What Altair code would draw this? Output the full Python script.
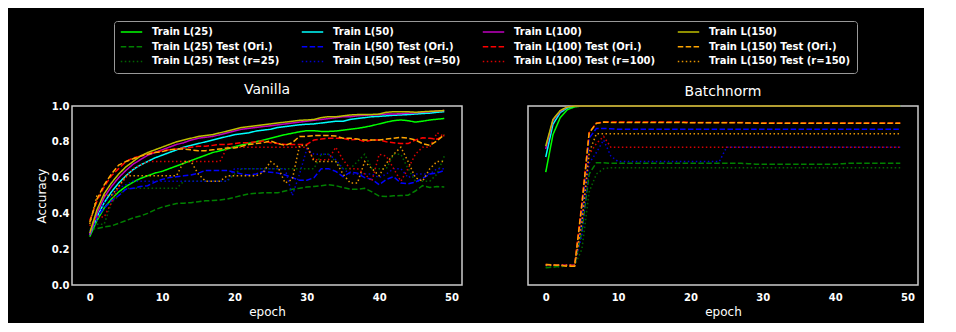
import altair as alt
import pandas as pd

EPOCHS = list(range(50))

# Legend / drawing order (column-major in a 4-column legend, like the reference)
LEGEND_ORDER = [
    "Train L(25)", "Train L(25) Test (Ori.)", "Train L(25) Test (r=25)",
    "Train L(50)", "Train L(50) Test (Ori.)", "Train L(50) Test (r=50)",
    "Train L(100)", "Train L(100) Test (Ori.)", "Train L(100) Test (r=100)",
    "Train L(150)", "Train L(150) Test (Ori.)", "Train L(150) Test (r=150)",
]
COLORS = [
    "#00ff00", "#008000", "#006400",
    "#00ffff", "#0000ff", "#0000cd",
    "#bf00bf", "#ff0000", "#d80000",
    "#bfbf00", "#ffa500", "#e59400",
]
SOLID, DASHED, DOTTED = [1, 0], [5.5, 2.4], [1.5, 2.5]
DASHES = [SOLID, DASHED, DOTTED] * 4

# ---------------- Vanilla ----------------
V_TRAIN25 = [0.27, 0.36, 0.43, 0.48, 0.52, 0.55, 0.575, 0.595, 0.61, 0.625,
             0.635, 0.65, 0.665, 0.68, 0.695, 0.71, 0.725, 0.74, 0.75, 0.76,
             0.772, 0.782, 0.792, 0.80, 0.81, 0.82, 0.83, 0.84, 0.848, 0.856,
             0.862, 0.862, 0.858, 0.858, 0.86, 0.865, 0.87, 0.875, 0.882, 0.89,
             0.90, 0.91, 0.918, 0.922, 0.918, 0.91, 0.915, 0.922, 0.926, 0.93]
V_TRAIN50 = [0.28, 0.38, 0.46, 0.52, 0.57, 0.61, 0.645, 0.67, 0.69, 0.71,
             0.725, 0.74, 0.755, 0.77, 0.78, 0.79, 0.80, 0.81, 0.82, 0.83,
             0.84, 0.845, 0.85, 0.86, 0.865, 0.87, 0.88, 0.885, 0.89, 0.895,
             0.898, 0.90, 0.905, 0.91, 0.915, 0.915, 0.925, 0.93, 0.935, 0.94,
             0.942, 0.945, 0.948, 0.95, 0.952, 0.955, 0.958, 0.96, 0.965, 0.968]
V_TRAIN100 = [0.28, 0.40, 0.49, 0.55, 0.60, 0.64, 0.675, 0.70, 0.725, 0.74,
              0.755, 0.77, 0.785, 0.795, 0.81, 0.82, 0.825, 0.83, 0.84, 0.85,
              0.86, 0.87, 0.875, 0.88, 0.885, 0.89, 0.895, 0.90, 0.905, 0.91,
              0.915, 0.92, 0.925, 0.93, 0.935, 0.94, 0.94, 0.945, 0.948, 0.95,
              0.952, 0.955, 0.955, 0.957, 0.96, 0.962, 0.965, 0.968, 0.972, 0.975]
V_TRAIN150 = [0.29, 0.42, 0.51, 0.57, 0.62, 0.66, 0.69, 0.72, 0.74, 0.755,
              0.77, 0.785, 0.80, 0.81, 0.82, 0.83, 0.835, 0.84, 0.85, 0.86,
              0.87, 0.88, 0.885, 0.89, 0.895, 0.90, 0.905, 0.91, 0.915, 0.92,
              0.922, 0.925, 0.935, 0.94, 0.94, 0.945, 0.95, 0.952, 0.952, 0.953,
              0.955, 0.965, 0.968, 0.968, 0.968, 0.965, 0.968, 0.97, 0.972, 0.975]
V_ORI25 = [0.31, 0.315, 0.325, 0.33, 0.345, 0.36, 0.375, 0.385, 0.40, 0.42,
           0.435, 0.445, 0.455, 0.457, 0.46, 0.465, 0.47, 0.472, 0.475, 0.48,
           0.49, 0.50, 0.51, 0.512, 0.515, 0.515, 0.515, 0.525, 0.535, 0.54,
           0.547, 0.55, 0.555, 0.56, 0.555, 0.545, 0.535, 0.535, 0.54, 0.52,
           0.497, 0.495, 0.498, 0.50, 0.502, 0.525, 0.555, 0.545, 0.55, 0.548]
V_ORI50 = [0.28, 0.38, 0.43, 0.47, 0.50, 0.535, 0.54, 0.55, 0.555, 0.575,
           0.59, 0.60, 0.605, 0.61, 0.615, 0.625, 0.64, 0.64, 0.64, 0.64,
           0.63, 0.62, 0.615, 0.62, 0.635, 0.63, 0.625, 0.615, 0.60, 0.585,
           0.585, 0.60, 0.65, 0.65, 0.635, 0.605, 0.63, 0.625, 0.60, 0.59,
           0.56, 0.59, 0.605, 0.57, 0.565, 0.575, 0.595, 0.62, 0.625, 0.64]
V_ORI100 = [0.36, 0.47, 0.55, 0.61, 0.65, 0.69, 0.71, 0.72, 0.735, 0.74,
            0.75, 0.755, 0.76, 0.765, 0.77, 0.775, 0.775, 0.78, 0.785, 0.785,
            0.79, 0.795, 0.795, 0.80, 0.805, 0.795, 0.79, 0.785, 0.785, 0.785,
            0.785, 0.81, 0.815, 0.82, 0.82, 0.82, 0.81, 0.815, 0.80, 0.81,
            0.81, 0.80, 0.795, 0.79, 0.79, 0.81, 0.822, 0.82, 0.815, 0.835]
V_ORI150 = [0.35, 0.48, 0.56, 0.62, 0.67, 0.69, 0.705, 0.72, 0.73, 0.74,
            0.745, 0.755, 0.76, 0.76, 0.755, 0.75, 0.75, 0.755, 0.76, 0.765,
            0.765, 0.775, 0.785, 0.79, 0.795, 0.805, 0.79, 0.78, 0.795, 0.83,
            0.83, 0.835, 0.835, 0.835, 0.832, 0.82, 0.82, 0.815, 0.81, 0.81,
            0.81, 0.815, 0.82, 0.825, 0.82, 0.81, 0.79, 0.78, 0.805, 0.84]
V_R25 = [0.36, 0.34, 0.34, 0.46, 0.50, 0.54, 0.54, 0.54, 0.54, 0.54,
         0.54, 0.54, 0.54, 0.58, 0.58, 0.58, 0.58, 0.58, 0.58, 0.58,
         0.62, 0.65, 0.65, 0.65, 0.65, 0.65, 0.65, 0.65, 0.65, 0.65,
         0.65, 0.65, 0.73, 0.73, 0.69, 0.65, 0.65, 0.69, 0.73, 0.65,
         0.65, 0.65, 0.73, 0.73, 0.65, 0.58, 0.58, 0.58, 0.62, 0.72]
V_R50 = [0.30, 0.36, 0.46, 0.50, 0.54, 0.56, 0.58, 0.58, 0.58, 0.58,
         0.58, 0.58, 0.58, 0.58, 0.58, 0.58, 0.58, 0.58, 0.58, 0.58,
         0.65, 0.65, 0.65, 0.65, 0.65, 0.65, 0.65, 0.65, 0.50, 0.62,
         0.76, 0.73, 0.73, 0.73, 0.70, 0.65, 0.62, 0.62, 0.62, 0.62,
         0.60, 0.62, 0.65, 0.65, 0.60, 0.62, 0.62, 0.62, 0.65, 0.65]
V_R100 = [0.33, 0.38, 0.38, 0.46, 0.55, 0.60, 0.65, 0.67, 0.69, 0.69,
          0.69, 0.69, 0.69, 0.69, 0.69, 0.69, 0.69, 0.69, 0.69, 0.77,
          0.77, 0.77, 0.77, 0.77, 0.77, 0.77, 0.77, 0.77, 0.77, 0.77,
          0.77, 0.70, 0.70, 0.70, 0.77, 0.70, 0.65, 0.65, 0.62, 0.58,
          0.73, 0.72, 0.65, 0.58, 0.65, 0.73, 0.77, 0.77, 0.85, 0.83]
V_R150 = [0.34, 0.50, 0.50, 0.50, 0.55, 0.61, 0.61, 0.61, 0.61, 0.61,
          0.61, 0.61, 0.61, 0.69, 0.69, 0.62, 0.58, 0.58, 0.58, 0.61,
          0.61, 0.61, 0.61, 0.61, 0.63, 0.69, 0.66, 0.57, 0.59, 0.78,
          0.78, 0.69, 0.69, 0.69, 0.69, 0.62, 0.57, 0.57, 0.69, 0.65,
          0.61, 0.68, 0.73, 0.77, 0.69, 0.60, 0.58, 0.65, 0.69, 0.69]

# ---------------- Batchnorm ----------------
B_TRAIN25 = [0.63, 0.84, 0.935, 0.98, 0.995, 1.0, 1.0, 1.0, 1.0, 1.0,
             1.0, 1.0, 1.0, 1.0, 1.0, 1.0, 1.0, 1.0, 1.0, 1.0,
             1.0, 1.0, 1.0, 1.0, 1.0, 1.0, 1.0, 1.0, 1.0, 1.0,
             1.0, 1.0, 1.0, 1.0, 1.0, 1.0, 1.0, 1.0, 1.0, 1.0,
             1.0, 1.0, 1.0, 1.0, 1.0, 1.0, 1.0, 1.0, 1.0, 1.0]
B_TRAIN50 = [0.715, 0.898, 0.963, 0.99, 1.0, 1.0, 1.0, 1.0, 1.0, 1.0,
             1.0, 1.0, 1.0, 1.0, 1.0, 1.0, 1.0, 1.0, 1.0, 1.0,
             1.0, 1.0, 1.0, 1.0, 1.0, 1.0, 1.0, 1.0, 1.0, 1.0,
             1.0, 1.0, 1.0, 1.0, 1.0, 1.0, 1.0, 1.0, 1.0, 1.0,
             1.0, 1.0, 1.0, 1.0, 1.0, 1.0, 1.0, 1.0, 1.0, 1.0]
B_TRAIN100 = [0.76, 0.92, 0.97, 0.995, 1.0, 1.0, 1.0, 1.0, 1.0, 1.0,
              1.0, 1.0, 1.0, 1.0, 1.0, 1.0, 1.0, 1.0, 1.0, 1.0,
              1.0, 1.0, 1.0, 1.0, 1.0, 1.0, 1.0, 1.0, 1.0, 1.0,
              1.0, 1.0, 1.0, 1.0, 1.0, 1.0, 1.0, 1.0, 1.0, 1.0,
              1.0, 1.0, 1.0, 1.0, 1.0, 1.0, 1.0, 1.0, 1.0, 1.0]
B_TRAIN150 = [0.776, 0.925, 0.975, 0.995, 1.0, 1.0, 1.0, 1.0, 1.0, 1.0,
              1.0, 1.0, 1.0, 1.0, 1.0, 1.0, 1.0, 1.0, 1.0, 1.0,
              1.0, 1.0, 1.0, 1.0, 1.0, 1.0, 1.0, 1.0, 1.0, 1.0,
              1.0, 1.0, 1.0, 1.0, 1.0, 1.0, 1.0, 1.0, 1.0, 1.0,
              1.0, 1.0, 1.0, 1.0, 1.0, 1.0, 1.0, 1.0, 1.0, 1.0]
B_ORI25 = [0.097, 0.10, 0.105, 0.11, 0.11, 0.30, 0.62, 0.683, 0.683, 0.68,
           0.68, 0.68, 0.68, 0.68, 0.68, 0.68, 0.68, 0.68, 0.68, 0.68,
           0.68, 0.68, 0.68, 0.68, 0.68, 0.68, 0.68, 0.68, 0.678, 0.675,
           0.675, 0.675, 0.675, 0.675, 0.675, 0.675, 0.675, 0.675, 0.675, 0.675,
           0.675, 0.678, 0.68, 0.68, 0.68, 0.68, 0.68, 0.68, 0.68, 0.68]
B_ORI50 = [0.11, 0.11, 0.11, 0.11, 0.11, 0.40, 0.82, 0.875, 0.875, 0.873,
           0.87, 0.87, 0.87, 0.87, 0.87, 0.87, 0.87, 0.87, 0.87, 0.87,
           0.87, 0.87, 0.87, 0.87, 0.87, 0.87, 0.87, 0.87, 0.87, 0.87,
           0.87, 0.87, 0.87, 0.87, 0.87, 0.87, 0.87, 0.87, 0.87, 0.87,
           0.87, 0.87, 0.87, 0.87, 0.87, 0.87, 0.87, 0.87, 0.87, 0.87]
B_ORI100 = [0.115, 0.11, 0.11, 0.11, 0.11, 0.46, 0.85, 0.905, 0.91, 0.91,
            0.91, 0.91, 0.91, 0.91, 0.91, 0.91, 0.91, 0.91, 0.91, 0.91,
            0.908, 0.908, 0.908, 0.908, 0.908, 0.908, 0.908, 0.908, 0.906, 0.905,
            0.905, 0.905, 0.905, 0.905, 0.905, 0.905, 0.905, 0.905, 0.905, 0.905,
            0.905, 0.905, 0.905, 0.905, 0.905, 0.905, 0.905, 0.905, 0.905, 0.905]
B_ORI150 = [0.115, 0.112, 0.11, 0.105, 0.105, 0.45, 0.85, 0.903, 0.91, 0.908,
            0.908, 0.908, 0.908, 0.908, 0.908, 0.908, 0.908, 0.908, 0.908, 0.908,
            0.906, 0.906, 0.906, 0.906, 0.906, 0.906, 0.906, 0.906, 0.905, 0.904,
            0.903, 0.903, 0.903, 0.903, 0.903, 0.903, 0.903, 0.903, 0.903, 0.903,
            0.903, 0.903, 0.903, 0.903, 0.903, 0.903, 0.903, 0.903, 0.903, 0.903]
B_R25 = [0.10, 0.10, 0.10, 0.11, 0.11, 0.20, 0.52, 0.62, 0.65, 0.655,
         0.655, 0.655, 0.655, 0.655, 0.655, 0.655, 0.655, 0.655, 0.655, 0.655,
         0.655, 0.655, 0.655, 0.655, 0.655, 0.655, 0.655, 0.655, 0.655, 0.655,
         0.655, 0.655, 0.655, 0.655, 0.655, 0.655, 0.655, 0.655, 0.655, 0.655,
         0.655, 0.655, 0.655, 0.655, 0.655, 0.655, 0.655, 0.655, 0.655, 0.655]
B_R50 = [0.11, 0.11, 0.11, 0.11, 0.11, 0.28, 0.68, 0.74, 0.81, 0.72,
         0.69, 0.69, 0.69, 0.69, 0.69, 0.69, 0.69, 0.69, 0.69, 0.69,
         0.69, 0.69, 0.69, 0.69, 0.69, 0.77, 0.77, 0.77, 0.77, 0.77,
         0.77, 0.77, 0.77, 0.77, 0.77, 0.77, 0.77, 0.77, 0.77, 0.77,
         0.77, 0.77, 0.77, 0.77, 0.77, 0.77, 0.77, 0.77, 0.77, 0.77]
B_R100 = [0.11, 0.11, 0.11, 0.11, 0.11, 0.35, 0.73, 0.79, 0.83, 0.77,
          0.77, 0.77, 0.77, 0.77, 0.77, 0.77, 0.77, 0.77, 0.77, 0.77,
          0.77, 0.77, 0.77, 0.77, 0.77, 0.77, 0.77, 0.77, 0.77, 0.77,
          0.77, 0.77, 0.77, 0.77, 0.77, 0.77, 0.77, 0.77, 0.77, 0.77,
          0.77, 0.77, 0.77, 0.77, 0.77, 0.77, 0.77, 0.77, 0.77, 0.77]
B_R150 = [0.11, 0.11, 0.11, 0.11, 0.11, 0.35, 0.74, 0.845, 0.845, 0.845,
          0.845, 0.845, 0.845, 0.845, 0.845, 0.845, 0.845, 0.845, 0.845, 0.845,
          0.845, 0.845, 0.845, 0.845, 0.845, 0.845, 0.845, 0.845, 0.845, 0.845,
          0.845, 0.845, 0.845, 0.845, 0.845, 0.845, 0.845, 0.845, 0.845, 0.845,
          0.845, 0.845, 0.845, 0.845, 0.845, 0.845, 0.845, 0.845, 0.845, 0.845]

VANILLA = [V_TRAIN25, V_ORI25, V_R25, V_TRAIN50, V_ORI50, V_R50,
           V_TRAIN100, V_ORI100, V_R100, V_TRAIN150, V_ORI150, V_R150]
BATCHNORM = [B_TRAIN25, B_ORI25, B_R25, B_TRAIN50, B_ORI50, B_R50,
             B_TRAIN100, B_ORI100, B_R100, B_TRAIN150, B_ORI150, B_R150]


def frame(series_values):
    rows = []
    for name, values in zip(LEGEND_ORDER, series_values):
        for e, v in zip(EPOCHS, values):
            rows.append({"series": name, "epoch": e, "acc": v})
    return pd.DataFrame(rows)


LEGEND = alt.Legend(
    title=None, orient="none", legendX=42, legendY=-85, columns=4,
    symbolType="stroke", symbolSize=460, symbolStrokeWidth=1.5, clipHeight=10,
    labelFont="DejaVu Sans", labelFontWeight="bold", labelFontSize=10,
    labelColor="white", labelOffset=9, labelLimit=0,
    columnPadding=21, rowPadding=4.7, padding=6,
    strokeColor="#999999", fillColor="black", cornerRadius=3,
)

AXIS_STYLE = dict(labelFont="DejaVu Sans", labelFontWeight="bold", labelFontSize=10,
                  labelColor="white", titleFont="DejaVu Sans", titleFontWeight="normal",
                  titleFontSize=12, titleColor="white", grid=False, domain=False, ticks=False)


def panel(title, series_values, show_y):
    y_axis = alt.Axis(values=[0, 0.2, 0.4, 0.6, 0.8, 1.0], format=".1f", title="Accuracy",
                      labelPadding=3, titlePadding=3, **AXIS_STYLE) if show_y else None
    return alt.Chart(frame(series_values)).mark_line(strokeWidth=1.5).encode(
        x=alt.X("epoch:Q", scale=alt.Scale(domain=[-2.45, 51.45], nice=False, zero=False),
                axis=alt.Axis(values=[0, 10, 20, 30, 40, 50], title="epoch",
                              labelPadding=7, titlePadding=4, **AXIS_STYLE)),
        y=alt.Y("acc:Q", scale=alt.Scale(domain=[0, 1], nice=False), axis=y_axis),
        color=alt.Color("series:N", scale=alt.Scale(domain=LEGEND_ORDER, range=COLORS), legend=LEGEND),
        strokeDash=alt.StrokeDash("series:N", scale=alt.Scale(domain=LEGEND_ORDER, range=DASHES), legend=LEGEND),
    ).properties(
        width=390, height=179,
        title=alt.TitleParams(title, font="DejaVu Sans", fontSize=14, fontWeight="normal",
                              color="white", offset=4),
    )


chart = alt.hconcat(
    panel("Vanilla", VANILLA, True),
    panel("Batchnorm", BATCHNORM, False),
    spacing=64,
).properties(
    background="black",
    padding={"left": 26, "top": 12, "right": 5, "bottom": 5},
).configure_view(
    stroke="#cccccc", strokeWidth=1.5, fill="black",
)

chart.save("out.html", embed_options={"renderer": "svg", "actions": False})
